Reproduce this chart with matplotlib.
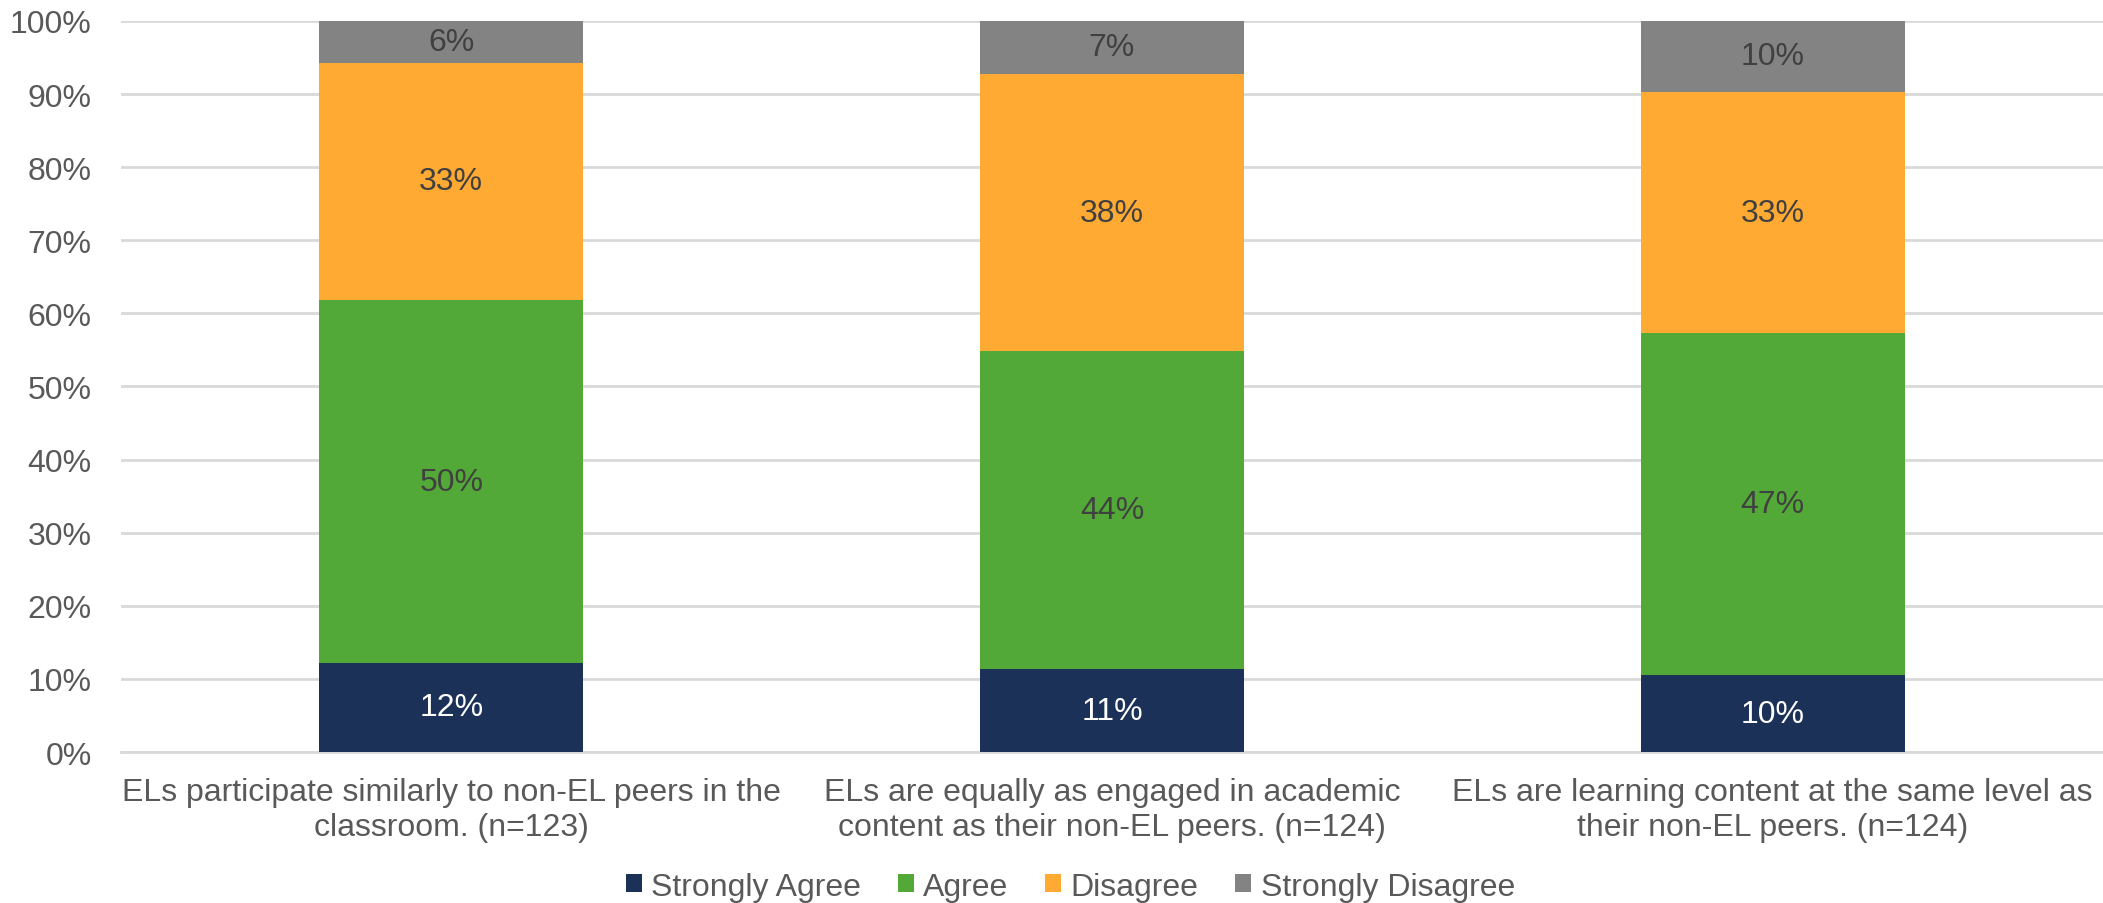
import numpy as np
import matplotlib.pyplot as plt

plt.rcParams['font.family'] = ['Liberation Sans', 'DejaVu Sans']

# survey items and number of respondents per item
statements = [
    "ELs participate similarly to non-EL peers in the\nclassroom. (n=123)",
    "ELs are equally as engaged in academic\ncontent as their non-EL peers. (n=124)",
    "ELs are learning content at the same level as\ntheir non-EL peers. (n=124)",
]
responses = ["Strongly Agree", "Agree", "Disagree", "Strongly Disagree"]

# response counts per statement
strongly_agree = [15, 14, 13]
agree = [61, 54, 58]
disagree = [40, 47, 41]
strongly_disagree = [7, 9, 12]

colors = ["#1B3158", "#53A937", "#FFAA33", "#838383"]
label_colors = ["white", "#404040", "#404040", "#404040"]

counts = np.array([strongly_agree, agree, disagree, strongly_disagree], dtype=float)
shares = counts / counts.sum(axis=0) * 100

fig = plt.figure(figsize=(21.03, 9.04), dpi=100)
ax = fig.add_axes([0.0575, 0.1670, 0.9425, 0.8087])

x = np.arange(len(statements))
bottom = np.zeros(len(statements))
for share, name, col, tcol in zip(shares, responses, colors, label_colors):
    bars = ax.bar(x, share, 0.4, bottom=bottom, color=col, label=name, zorder=3)
    ax.bar_label(bars, labels=[f"{v:.0f}%" for v in share], label_type='center',
                 color=tcol, fontsize=23)
    bottom += share

ax.set_xlim(-0.5, 2.5)
ax.set_ylim(0, 100)
ax.set_yticks(np.arange(0, 101, 10))
ax.set_yticklabels([f"{t}%" for t in range(0, 101, 10)])
ax.set_xticks(x)
ax.set_xticklabels(statements, fontsize=23, color="#595959")
ax.tick_params(axis='y', labelsize=23, labelcolor="#595959", length=0, pad=21)
ax.tick_params(axis='x', length=0, pad=18)

ax.grid(axis='y', color="#D9D9D9", linewidth=2, zorder=0)
for side in ['top', 'right', 'left']:
    ax.spines[side].set_visible(False)
ax.spines['bottom'].set_color("#D9D9D9")
ax.spines['bottom'].set_linewidth(2)

fig.legend(loc='center', bbox_to_anchor=(0.509, 0.018), ncol=4, frameon=False,
           fontsize=23, labelcolor="#595959", handlelength=0.5, handleheight=0.5,
           handletextpad=0.3, columnspacing=1.15)

fig.savefig("out.png", dpi=100)
